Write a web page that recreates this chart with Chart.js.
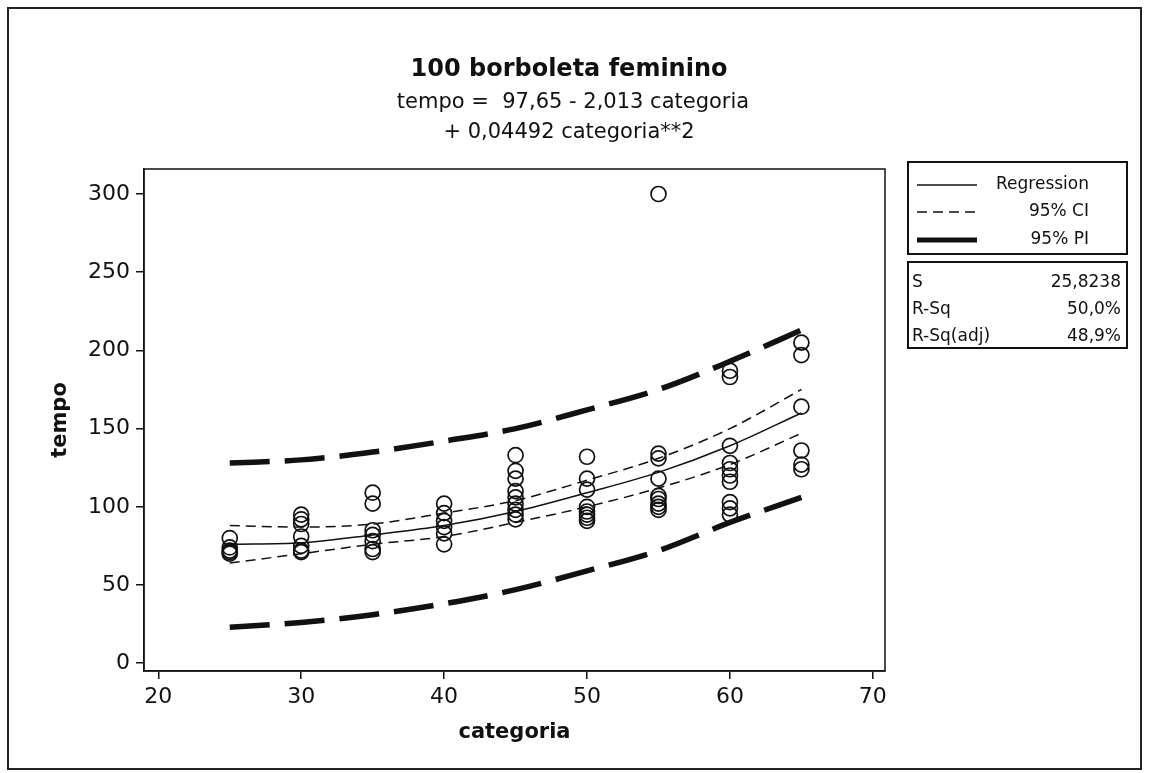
<!DOCTYPE html>
<html>
<head>
<meta charset="utf-8">
<script src="https://cdn.jsdelivr.net/npm/chart.js@4.4.1/dist/chart.umd.min.js"></script>
<style>
  html, body { margin: 0; padding: 0; background: #fff; }
  #wrap { width: 1153px; height: 773px; }
</style>
</head>
<body>
<div id="wrap"><canvas id="mychart" width="1153" height="773"></canvas></div>
<script>
// observed times per age category
const pointCategoria = [
  25, 25, 25, 25, 25,
  30, 30, 30, 30, 30, 30, 30,
  35, 35, 35, 35, 35, 35, 35,
  40, 40, 40, 40, 40, 40,
  45, 45, 45, 45, 45, 45, 45, 45, 45,
  50, 50, 50, 50, 50, 50, 50, 50,
  55, 55, 55, 55, 55, 55, 55, 55, 55,
  60, 60, 60, 60, 60, 60, 60, 60, 60, 60,
  65, 65, 65, 65, 65, 65
];
const pointTempo = [
  80, 74, 72, 71, 70,
  95, 92, 89, 81, 75, 72, 71,
  109, 102, 85, 82, 78, 73, 71,
  102, 96, 91, 87, 83, 76,
  133, 123, 118, 110, 106, 102, 98, 95, 92,
  132, 118, 111, 100, 97, 95, 93, 91,
  300, 134, 131, 118, 107, 105, 102, 100, 98,
  187, 183, 139, 128, 124, 120, 116, 103, 99, 95,
  205, 197, 164, 136, 127, 124
];

// fitted curve and bands
const curveCategoria = [25, 30, 35, 40, 45, 50, 55, 60, 65];
const fitTempo = [76, 77, 82, 88, 97, 109, 122, 139, 160];
const ciUpper = [88, 87, 89, 96, 104, 117, 131, 150, 175];
const ciLower = [64, 70, 76, 81, 90, 100, 112, 127, 147];
const piUpper = [128, 130, 135, 142, 150, 162, 175, 193, 213];
const piLower = [23, 26, 31, 38, 47, 59, 72, 90, 106];

const xTicks = [20, 30, 40, 50, 60, 70];
const yTicks = [0, 50, 100, 150, 200, 250, 300];

const statLabels = ['S', 'R-Sq', 'R-Sq(adj)'];
const statValues = ['25,8238', '50,0%', '48,9%'];

const FONT = '"DejaVu Sans", Verdana, sans-serif';

function pairs(xs, ys) {
  return xs.map((x, i) => ({ x: x, y: ys[i] }));
}

function curve(label, ys, width, dash) {
  return {
    type: 'line',
    label: label,
    data: pairs(curveCategoria, ys),
    borderColor: '#111',
    borderWidth: width,
    borderDash: dash,
    pointRadius: 0,
    fill: false,
    cubicInterpolationMode: 'monotone'
  };
}

// page background, outer frame, titles, plot frame, legend and stats boxes
const decorations = {
  id: 'decorations',
  beforeDraw(chart) {
    const c = chart.ctx;
    c.save();
    c.fillStyle = '#fff';
    c.fillRect(0, 0, chart.width, chart.height);
    c.restore();
  },
  afterDraw(chart) {
    const c = chart.ctx;
    const a = chart.chartArea;
    c.save();
    c.strokeStyle = '#222';
    c.lineWidth = 2;
    c.strokeRect(8, 8, 1133, 761);

    c.lineWidth = 1.5;
    c.strokeStyle = '#111';
    c.strokeRect(a.left, a.top, a.right - a.left, a.bottom - a.top);

    c.fillStyle = '#111';
    c.textAlign = 'center';
    c.textBaseline = 'middle';
    c.font = 'bold 24px ' + FONT;
    c.fillText('100 borboleta feminino', 569, 70);
    c.font = '21px ' + FONT;
    c.fillText('tempo =  97,65 - 2,013 categoria', 573, 103);
    c.fillText('+ 0,04492 categoria**2', 569, 133);

    // legend box
    c.lineWidth = 2;
    c.strokeRect(908, 162, 219, 92);
    c.font = '17px ' + FONT;
    c.textAlign = 'right';
    const rows = [
      { text: 'Regression', y: 185, w: 1.5, dash: [] },
      { text: '95% CI', y: 212, w: 1.5, dash: [10, 6] },
      { text: '95% PI', y: 240, w: 5, dash: [] }
    ];
    rows.forEach(r => {
      c.beginPath();
      c.lineWidth = r.w;
      c.setLineDash(r.dash);
      c.moveTo(917, r.y);
      c.lineTo(977, r.y);
      c.stroke();
      c.setLineDash([]);
      c.fillText(r.text, 1089, r.y);
    });

    // fit statistics box
    c.lineWidth = 2;
    c.strokeRect(908, 262, 219, 86);
    statLabels.forEach((s, i) => {
      const y = 283 + i * 27;
      c.textAlign = 'left';
      c.fillText(s, 912, y);
      c.textAlign = 'right';
      c.fillText(statValues[i], 1121, y);
    });
    c.restore();
  }
};

const ctx = document.getElementById('mychart');

new Chart(ctx, {
  type: 'scatter',
  data: {
    datasets: [
      curve('95% PI upper', piUpper, 5.5, [40, 15]),
      curve('95% PI lower', piLower, 5.5, [40, 15]),
      curve('95% CI upper', ciUpper, 1.5, [10, 6]),
      curve('95% CI lower', ciLower, 1.5, [10, 6]),
      curve('Regression', fitTempo, 1.5, []),
      {
        label: 'tempo',
        data: pairs(pointCategoria, pointTempo),
        pointStyle: 'circle',
        pointRadius: 7.5,
        pointBorderWidth: 1.7,
        pointBorderColor: '#111',
        pointBackgroundColor: 'rgba(0,0,0,0)'
      }
    ]
  },
  options: {
    responsive: false,
    animation: false,
    layout: { padding: { left: 48, right: 268, top: 169, bottom: 28 } },
    plugins: {
      legend: { display: false },
      tooltip: { enabled: false }
    },
    scales: {
      x: {
        type: 'linear',
        min: 19,
        max: 70.85,
        afterBuildTicks: s => { s.ticks = xTicks.map(v => ({ value: v })); },
        afterFit: s => { s.height = 74; },
        grid: { drawOnChartArea: false, tickLength: 8, color: '#111', lineWidth: 1.5 },
        border: { display: true, color: '#111', width: 1.5 },
        ticks: { color: '#111', padding: 5, font: { family: FONT, size: 22 } },
        title: {
          display: true,
          text: 'categoria',
          color: '#111',
          padding: { top: 0, bottom: 0 },
          font: { family: FONT, size: 21, weight: 'bold' }
        }
      },
      y: {
        type: 'linear',
        min: -5,
        max: 316,
        afterBuildTicks: s => { s.ticks = yTicks.map(v => ({ value: v })); },
        afterFit: s => { s.width = 96; },
        grid: { drawOnChartArea: false, tickLength: 8, color: '#111', lineWidth: 1.5 },
        border: { display: true, color: '#111', width: 1.5 },
        ticks: { color: '#111', padding: 6, font: { family: FONT, size: 22 } },
        title: {
          display: true,
          text: 'tempo',
          color: '#111',
          padding: { top: 0, bottom: 0 },
          font: { family: FONT, size: 21, weight: 'bold' }
        }
      }
    }
  },
  plugins: [decorations]
});
</script>
</body>
</html>
